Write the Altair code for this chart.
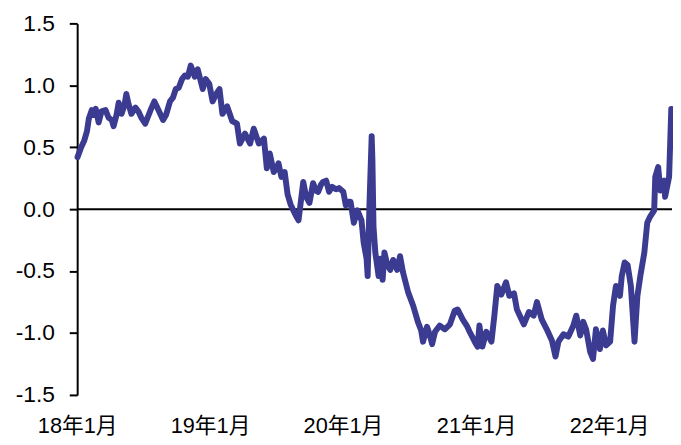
import altair as alt
import pandas as pd

dates = [
    "2018-01-02", "2018-01-12", "2018-01-20", "2018-01-28", "2018-02-02", "2018-02-10",
    "2018-02-16", "2018-02-21", "2018-03-01", "2018-03-09", "2018-03-20", "2018-03-28",
    "2018-04-06", "2018-04-11", "2018-04-19", "2018-04-25", "2018-05-03", "2018-05-11",
    "2018-05-16", "2018-05-22", "2018-05-30", "2018-06-10", "2018-06-18", "2018-06-26",
    "2018-07-07", "2018-07-15", "2018-07-23", "2018-08-01", "2018-08-09", "2018-08-17",
    "2018-08-25", "2018-09-02", "2018-09-13", "2018-09-21", "2018-09-29", "2018-10-07",
    "2018-10-16", "2018-10-24", "2018-11-01", "2018-11-09", "2018-11-20", "2018-11-28",
    "2018-12-12", "2018-12-20", "2018-12-30",
    "2019-01-08", "2019-01-18", "2019-01-27", "2019-02-04", "2019-02-17", "2019-03-03",
    "2019-03-16", "2019-03-24", "2019-04-07", "2019-04-21", "2019-05-01", "2019-05-15",
    "2019-05-29", "2019-06-06", "2019-06-14", "2019-06-25", "2019-07-03", "2019-07-08",
    "2019-07-16", "2019-07-25", "2019-08-02", "2019-08-10", "2019-08-18", "2019-08-26",
    "2019-09-01", "2019-09-09", "2019-09-14", "2019-09-22", "2019-10-01", "2019-10-11",
    "2019-10-19", "2019-10-25", "2019-11-02", "2019-11-07", "2019-11-16", "2019-11-24",
    "2019-12-02", "2019-12-13", "2019-12-21",
    "2020-01-02", "2020-01-09", "2020-01-17", "2020-01-22", "2020-01-31", "2020-02-10",
    "2020-02-21", "2020-02-27", "2020-03-06", "2020-03-09", "2020-03-11", "2020-03-14",
    "2020-03-20", "2020-03-22", "2020-03-25", "2020-03-30", "2020-04-08", "2020-04-13",
    "2020-04-19", "2020-04-24", "2020-05-02", "2020-05-10", "2020-05-18", "2020-05-29",
    "2020-06-06", "2020-06-14", "2020-06-28", "2020-07-12", "2020-07-25", "2020-08-03",
    "2020-08-08", "2020-08-19", "2020-08-27", "2020-09-02", "2020-09-10", "2020-09-23",
    "2020-10-07", "2020-10-21", "2020-11-03", "2020-11-11", "2020-11-25", "2020-12-06",
    "2020-12-14", "2020-12-28",
    "2021-01-05", "2021-01-10", "2021-01-18", "2021-01-29", "2021-02-12", "2021-02-20",
    "2021-02-28", "2021-03-11", "2021-03-24", "2021-04-02", "2021-04-15", "2021-04-23",
    "2021-05-12", "2021-05-26", "2021-06-08", "2021-06-17", "2021-06-30", "2021-07-14",
    "2021-07-28", "2021-08-07", "2021-08-15", "2021-08-29", "2021-09-11", "2021-09-25",
    "2021-10-03", "2021-10-14", "2021-10-22", "2021-10-30", "2021-11-10", "2021-11-18",
    "2021-11-26", "2021-12-07", "2021-12-15", "2021-12-24",
    "2022-01-04", "2022-01-12", "2022-01-20", "2022-01-31", "2022-02-05", "2022-02-13",
    "2022-02-21", "2022-03-02", "2022-03-12", "2022-03-20", "2022-03-28", "2022-04-08",
    "2022-04-16", "2022-04-24", "2022-05-05", "2022-05-08", "2022-05-16", "2022-05-22",
    "2022-06-02", "2022-06-04", "2022-06-15", "2022-06-21",
]

values = [
    0.42, 0.50, 0.55, 0.63, 0.73, 0.80,
    0.76, 0.81, 0.70, 0.79, 0.80, 0.74,
    0.72, 0.67, 0.76, 0.86, 0.77, 0.84,
    0.93, 0.85, 0.77, 0.82, 0.79, 0.74,
    0.69, 0.75, 0.81, 0.87, 0.82, 0.77,
    0.72, 0.76, 0.87, 0.90, 0.97, 0.98,
    1.05, 1.08, 1.07, 1.16, 1.07, 1.13,
    0.97, 1.05, 1.01,
    0.87, 0.93, 0.97, 0.77, 0.83, 0.71,
    0.69, 0.53, 0.61, 0.53, 0.65, 0.53,
    0.57, 0.33, 0.45, 0.30, 0.33, 0.37,
    0.26, 0.30, 0.12, 0.04, -0.01, -0.06,
    -0.09, 0.10, 0.22, 0.10, 0.05, 0.21,
    0.15, 0.14, 0.20, 0.22, 0.23, 0.14,
    0.18, 0.16, 0.17,
    0.14, 0.03, 0.06, 0.06, -0.11, -0.01,
    -0.09, -0.27, -0.40, -0.54, -0.30, 0.05,
    0.59, 0.40, -0.14, -0.35, -0.54, -0.40,
    -0.57, -0.35, -0.45, -0.49, -0.41, -0.49,
    -0.38, -0.51, -0.67, -0.78, -0.91, -0.98,
    -1.07, -0.95, -1.02, -1.09, -0.99, -0.94,
    -0.97, -0.93, -0.82, -0.81, -0.89, -0.94,
    -0.99, -1.07,
    -1.11, -0.94, -1.11, -0.99, -1.07, -0.86,
    -0.62, -0.69, -0.59, -0.70, -0.68, -0.81,
    -0.93, -0.83, -0.86, -0.75, -0.89, -0.97,
    -1.06, -1.19, -1.07, -1.01, -1.03, -0.94,
    -0.86, -1.02, -0.91, -0.97, -1.15, -1.21,
    -0.97, -1.13, -0.98, -1.10,
    -1.07, -0.78, -0.62, -0.70, -0.54, -0.43,
    -0.45, -0.62, -1.07, -0.70, -0.54, -0.35,
    -0.11, -0.06, -0.01, 0.26, 0.34, 0.15,
    0.23, 0.10, 0.26, 0.81,
]

y_ticks = [-1.5, -1.0, -0.5, 0.0, 0.5, 1.0, 1.5]
x_tick_years = [2018, 2019, 2020, 2021, 2022]

df = pd.DataFrame({"date": dates, "value": values})
zero_df = pd.DataFrame({"zero": [0.0]})

FONT = "Liberation Sans, Noto Sans CJK SC, sans-serif"

x_scale = alt.Scale(
    type="utc",
    domain=[alt.DateTime(year=2018, month=1, date=1, utc=True),
            alt.DateTime(year=2022, month=6, date=23, utc=True)],
)
y_scale = alt.Scale(domain=[-1.5, 1.5], nice=False, zero=False)

x_axis = alt.Axis(
    values=[alt.DateTime(year=y, month=1, date=1, utc=True) for y in x_tick_years],
    labelExpr="utcFormat(datum.value, '%y') + '年' + (utcmonth(datum.value) + 1) + '月'",
    domain=False, ticks=False, grid=False, labelFlush=False, labelOverlap=False,
    labelPadding=21, labelFont=FONT, labelFontSize=22, labelColor="black", title=None,
)
y_axis = alt.Axis(
    values=y_ticks,
    labelExpr="datum.value < 0 ? '-' + format(-datum.value, '.1f') : format(datum.value, '.1f')",
    domainColor="black", domainWidth=2, tickColor="black", tickWidth=2, tickSize=8,
    labelPadding=15, labelFont=FONT, labelFontSize=23, labelColor="black",
    grid=False, title=None,
)

zero_line = alt.Chart(zero_df).mark_rule(color="black", strokeWidth=2).encode(
    y=alt.Y("zero:Q", scale=y_scale, axis=y_axis),
)

line = alt.Chart(df).mark_line(
    color="#3B3B91", strokeWidth=6, strokeJoin="round", strokeCap="round"
).encode(
    x=alt.X("date:T", scale=x_scale, axis=x_axis),
    y=alt.Y("value:Q", scale=y_scale, axis=y_axis),
)

chart = alt.layer(zero_line, line).properties(
    width=602,
    height=376,
    autosize=alt.AutoSizeParams(type="none"),
    padding={"left": 70, "top": 13, "right": 1, "bottom": 40},
    background="white",
).configure_view(stroke=None)

chart.save("out.html", embed_options={"renderer": "svg", "actions": False})
